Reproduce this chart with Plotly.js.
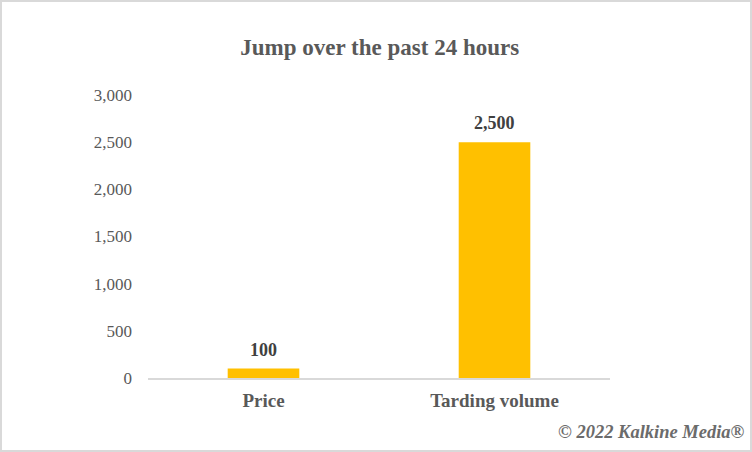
<!DOCTYPE html>
<html>
<head>
<meta charset="utf-8">
<script src="https://cdn.plot.ly/plotly-3.0.1.min.js"></script>
<style>
  body { margin: 0; background: #ffffff; }
  #chart { width: 748px; height: 448px; border: 2px solid #d9d9d9; }
</style>
</head>
<body>
<div id="chart"></div>
<script>
// data
var categories = ["Price", "Tarding volume"];
var values = [100, 2500];
var valueLabels = ["100", "2,500"];

// value labels sit above each bar
var labelNotes = categories.map(function (c, i) {
  return {
    x: c, y: values[i], xref: "x", yref: "y",
    text: "<b>" + valueLabels[i] + "</b>",
    showarrow: false, yshift: 19,
    font: { family: "Liberation Serif", size: 18, color: "#404040" }
  };
});

// copyright line, bottom right (outside the plot area)
labelNotes.push({
  x: 1.296, y: -0.19, xref: "paper", yref: "paper",
  xanchor: "right", yanchor: "middle",
  text: "<b><i>\u00a9 2022 Kalkine Media\u00ae</i></b>",
  showarrow: false,
  font: { family: "Liberation Serif", size: 18.5, color: "#6b6b6b" }
});

var data = [
  {
    type: "bar",
    x: categories,
    y: values,
    width: 0.31,
    marker: { color: "#ffc000" },
    hoverinfo: "x+y"
  }
];

var layout = {
  width: 748,
  height: 448,
  margin: { l: 146, r: 140, t: 93, b: 72 },
  paper_bgcolor: "#ffffff",
  plot_bgcolor: "#ffffff",
  showlegend: false,
  title: {
    text: "<b>Jump over the past 24 hours</b>",
    x: 0.505, xanchor: "center", y: 0.9, yanchor: "middle",
    font: { family: "Liberation Serif", size: 23, color: "#595959" }
  },
  xaxis: {
    showline: true, linecolor: "#d9d9d9", linewidth: 2,
    ticks: "", showgrid: false,
    tickfont: { family: "Liberation Serif", size: 19, color: "#595959" },
    ticklabelstandoff: 4
  },
  yaxis: {
    range: [0, 3000], dtick: 500, tickformat: ",",
    showgrid: false, zeroline: false, showline: false, ticks: "",
    tickfont: { family: "Liberation Serif", size: 17, color: "#595959" },
    ticklabelstandoff: 15
  },
  annotations: labelNotes
};

// bold category labels via tick text
layout.xaxis.tickvals = categories;
layout.xaxis.ticktext = categories.map(function (c) { return "<b>" + c + "</b>"; });

Plotly.newPlot("chart", data, layout, { displayModeBar: false });
</script>
</body>
</html>
